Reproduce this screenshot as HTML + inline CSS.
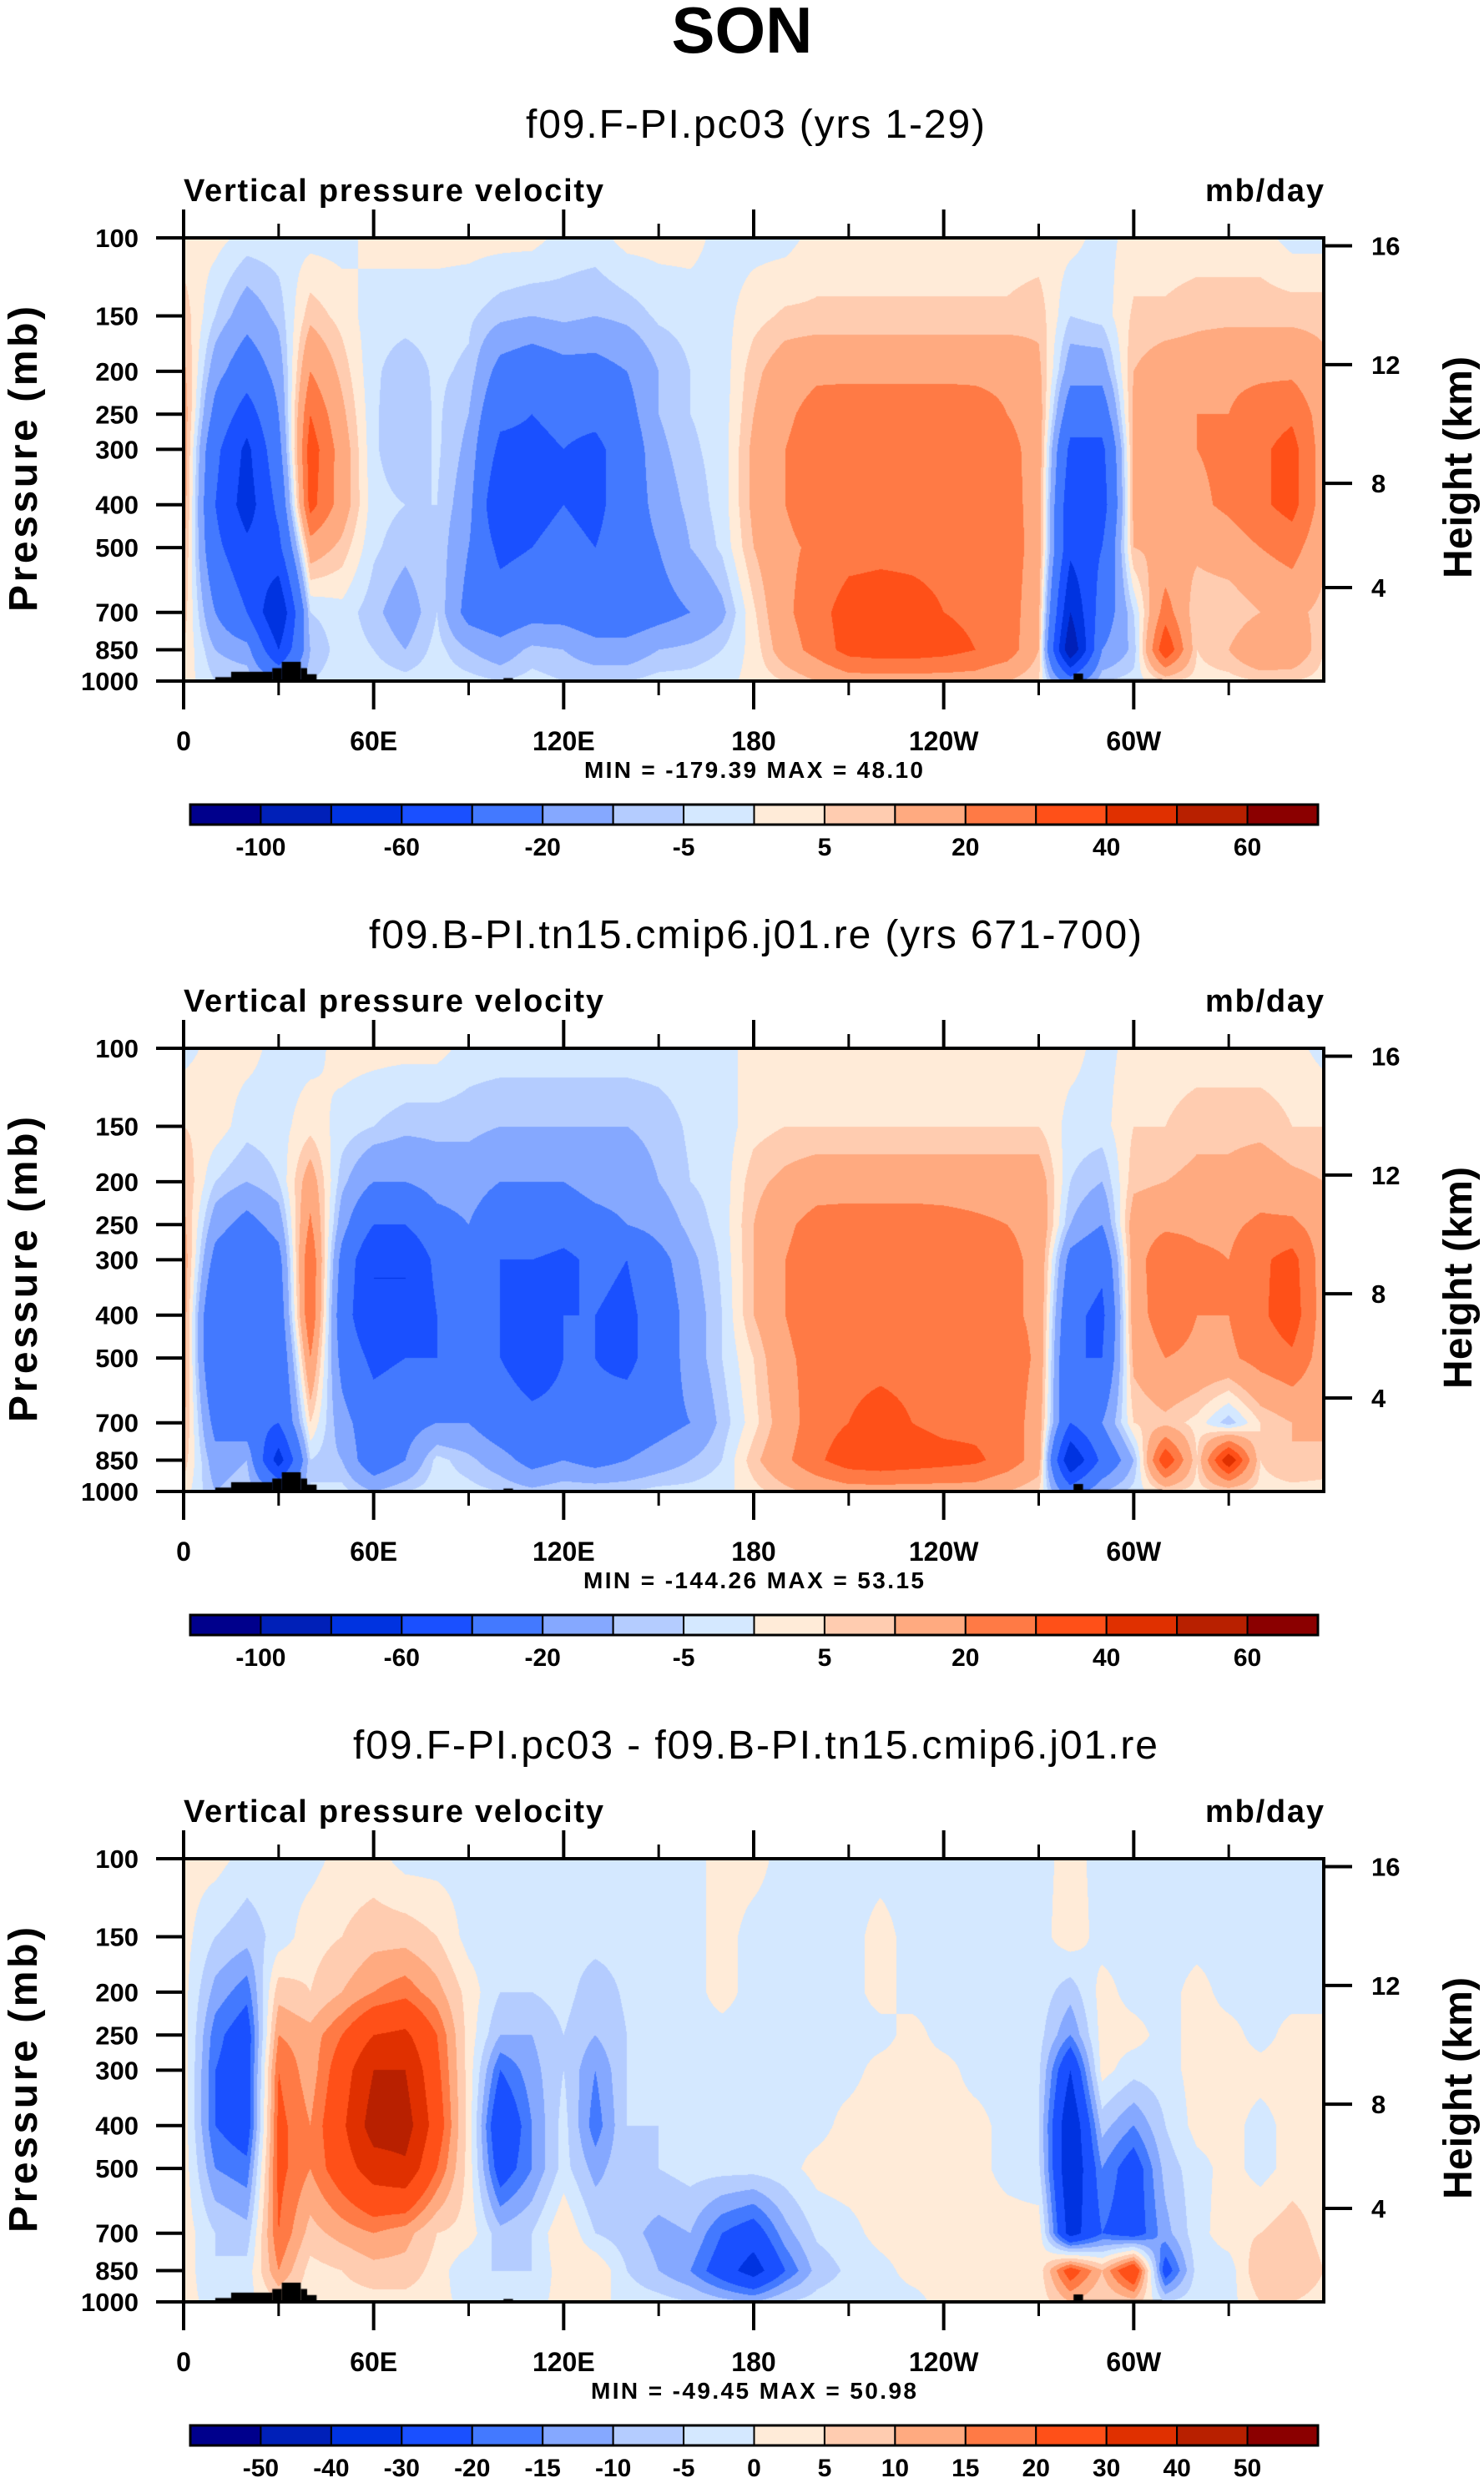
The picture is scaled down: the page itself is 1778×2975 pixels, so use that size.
<!DOCTYPE html>
<html><head><meta charset="utf-8">
<style>
html,body{margin:0;padding:0;background:#fff;}
#wrap{position:relative;width:1778px;height:2975px;overflow:hidden;font-family:"Liberation Sans",sans-serif;}
canvas{position:absolute;left:220px;}
svg{position:absolute;left:0;top:0;}
</style></head>
<body>
<div id="wrap">
<canvas id="c0" width="1366" height="531" style="top:285px"></canvas>
<canvas id="c1" width="1366" height="531" style="top:1256px"></canvas>
<canvas id="c2" width="1366" height="531" style="top:2227px"></canvas>
<svg id="svg" width="1778" height="2975" xmlns="http://www.w3.org/2000/svg">
<text x="889" y="63" text-anchor="middle" font-size="78" font-weight="bold" font-family="Liberation Sans, sans-serif">SON</text>
</svg>
</div>
<script>
const pLevels = [100,150,200,250,300,400,500,700,850,1000];
const lonStep = 10;
const colors = ["#00008c","#0020b8","#0033e0","#1a50ff","#4379ff","#85a8ff","#b4ccff","#d4e8ff","#ffebd8","#ffccb0","#ffaa80","#ff7a45","#ff5018","#e03000","#b82000","#8b0000"];
const levels1 = [-100,-80,-60,-40,-20,-10,-5,0,5,10,20,30,40,50,60];
const levels3 = [-50,-40,-30,-20,-15,-10,-5,0,5,10,15,20,30,40,50];
const labelIdx1 = [0,2,4,6,8,10,12,14];
const labelIdx3 = [0,1,2,3,4,5,6,7,8,9,10,11,12,13,14];
const xTickLons = [0,60,120,180,240,300];
const xTickLabels = ["0","60E","120E","180","120W","60W"];
const xMinorLons = [30,90,150,210,270,330];
const yTickP = [100,150,200,250,300,400,500,700,850,1000];
const heightLabels = ["16","12","8","4"];
const heightFrac = [0.018,0.286,0.554,0.789];
const titles = ["f09.F-PI.pc03 (yrs 1-29)","f09.B-PI.tn15.cmip6.j01.re (yrs 671-700)","f09.F-PI.pc03 - f09.B-PI.tn15.cmip6.j01.re"];
const titleLen = [550,926,964];
const minmax = ["MIN = -179.39  MAX =  48.10","MIN = -144.26  MAX =  53.15","MIN = -49.45  MAX =  50.98"];
const minmaxLen = [406,408,390];
const topoLon0 = [10,15,28,31,37,39,101,281,284];
const topoLon1 = [15,28,31,37,39,42,104,284,309];
const topoPs = [980,953,935,905,935,965,985,962,990];

const field1 = [
[2,2,-2,-2,-2,-2,2,2,2,2,2,2,-2,-2,2,2,2,-2,-2,-2,2,2,2,2,2,2,2,2,2,-2,2,2,2,2,2,-2,-2],
[8,-5,-15,-8,8,3,-3,-3,-3,-4,-8,-10,-8,-10,-8,-4,-3,-2,3,6,6,6,6,6,6,6,6,8,-5,-3,6,6,8,8,8,8,8],
[12,-15,-30,-15,20,8,-4,-8,-4,-6,-25,-30,-25,-25,-20,-10,-5,-3,8,15,18,18,18,18,18,18,18,12,-15,-15,10,15,15,18,18,18,12],
[15,-25,-50,-20,30,12,-4,-10,-4,-10,-35,-40,-35,-35,-25,-10,-5,-3,10,18,24,25,25,25,25,24,20,15,-30,-30,12,18,20,20,25,28,15],
[15,-35,-65,-25,36,15,-4,-10,-4,-12,-45,-45,-40,-45,-30,-12,-6,-3,12,20,26,27,27,27,27,26,24,15,-45,-45,12,18,20,22,28,34,15],
[15,-40,-70,-35,34,15,-3,-5,-5,-15,-60,-45,-40,-45,-30,-15,-8,-3,12,20,26,27,27,27,27,27,25,15,-55,-50,12,15,18,22,28,34,15],
[12,-35,-55,-45,15,8,-4,-8,-5,-20,-45,-40,-35,-40,-30,-20,-10,-4,10,18,22,26,27,27,27,27,26,15,-55,-40,10,12,12,15,20,24,12],
[8,-20,-40,-80,-5,-2,-8,-15,-5,-25,-30,-25,-25,-30,-30,-25,-20,-12,4,18,26,35,36,34,30,28,26,12,-80,-30,-5,25,5,5,10,12,8],
[5,-10,-15,-60,-10,-2,-5,-10,-3,-10,-15,-8,-10,-15,-15,-10,-8,-5,2,15,24,34,36,36,34,30,26,10,-100,-20,-8,40,5,10,20,18,5],
[3,-5,-5,-20,-5,-2,-2,-3,-2,-3,-5,-3,-5,-5,-5,-3,-3,-2,2,5,10,15,15,15,15,15,10,5,-30,-5,-3,5,3,3,5,5,3]
];
const field2 = [
[-2,2,2,-2,-2,2,2,2,2,-2,-2,-2,-2,-2,-2,-2,-2,-2,2,2,2,2,2,2,2,2,2,2,2,-2,2,2,2,2,2,2,-2],
[5,3,-3,-2,3,-2,-5,-8,-8,-8,-10,-10,-10,-10,-10,-8,-4,-3,3,5,5,5,5,5,5,5,5,5,-2,-2,5,5,8,8,8,5,5],
[10,-5,-10,-5,15,-8,-20,-20,-15,-15,-20,-20,-20,-15,-15,-10,-5,-3,8,12,15,15,15,15,15,15,15,15,-5,-10,8,10,12,12,15,12,10],
[12,-15,-25,-15,22,-15,-40,-40,-25,-20,-30,-25,-30,-25,-20,-15,-8,-3,10,18,24,25,25,25,24,22,20,18,-10,-20,15,18,18,18,22,22,15],
[15,-25,-35,-25,30,-25,-60,-60,-35,-30,-40,-40,-45,-35,-40,-25,-12,-4,10,20,26,26,26,26,26,25,22,18,-25,-35,15,28,22,20,28,34,15],
[15,-40,-40,-30,30,-30,-60,-60,-40,-35,-40,-55,-40,-40,-45,-30,-15,-5,10,20,26,27,27,27,27,26,22,18,-35,-45,15,26,20,20,28,36,15],
[15,-40,-40,-35,20,-25,-45,-40,-40,-35,-40,-50,-40,-40,-45,-30,-15,-5,5,18,24,27,27,27,27,27,26,18,-40,-40,12,20,18,18,24,28,15],
[12,-25,-30,-40,5,-15,-30,-25,-20,-20,-30,-35,-35,-35,-30,-25,-20,-8,3,15,26,30,34,30,27,27,26,15,-40,-20,5,8,3,-8,5,10,12],
[8,-15,-10,-70,-5,-10,-30,-20,-3,-8,-15,-25,-20,-25,-20,-15,-10,-5,8,18,28,36,38,36,34,32,26,15,-80,-35,-10,40,5,50,5,10,8],
[3,-10,-5,-20,-5,-3,-10,-5,-2,-3,-5,-8,-5,-5,-5,-3,-3,-2,3,8,12,15,15,15,15,15,10,5,-30,-10,-3,5,3,5,3,3,3]
];
const field3 = [
[2,2,-2,-2,-2,2,2,-2,-2,-2,-2,-2,-2,-2,-2,-2,-2,2,2,-2,-2,-2,-2,-2,-2,-2,-2,-2,2,-2,-2,-2,-2,-2,-2,-2,-2],
[2,-5,-8,-3,3,5,8,8,5,-2,-3,-2,-3,-3,-3,-3,-2,2,-2,-2,-2,-2,2,-2,-2,-2,-2,-2,3,-2,-2,-2,-2,-2,-2,-2,-2],
[2,-12,-18,8,5,10,15,18,12,3,-5,-5,-3,-8,-4,-3,-2,2,-2,-2,-2,-2,2,-2,-2,-2,-2,-2,-8,2,-2,-2,2,-2,-2,-2,-2],
[3,-18,-25,15,12,20,30,32,20,3,-10,-10,-5,-10,-5,-4,-2,-2,-2,-2,-2,-2,-2,2,-2,-2,-2,-3,-15,2,2,-2,2,2,-2,2,2],
[3,-20,-25,20,12,25,40,40,22,3,-20,-12,-5,-15,-5,-4,-2,-2,-2,-2,-2,-2,2,2,2,-2,-2,-4,-30,2,-3,-2,2,2,2,2,2],
[3,-20,-25,22,15,28,45,45,25,3,-30,-15,-3,-18,-5,-5,-3,-2,-2,-2,-2,2,3,3,2,2,-2,-5,-40,-8,-15,-5,2,2,-2,2,2],
[3,-15,-18,22,15,25,35,38,20,3,-25,-15,-3,-12,-6,-5,-3,-3,-3,-2,2,3,3,3,3,2,-2,-4,-40,-15,-25,-8,-2,2,-2,2,2],
[3,-5,-8,20,8,12,15,12,5,3,-8,-5,5,-5,-8,-12,-10,-20,-25,-12,-4,-2,2,3,3,3,3,3,-35,-20,-25,-12,-2,3,5,8,3],
[3,-5,-3,15,3,5,8,8,3,-5,-5,-5,3,5,-5,-10,-15,-25,-35,-20,-8,-4,-2,2,2,2,2,2,25,10,30,-25,-3,-3,10,10,5],
[2,-2,-2,5,2,3,3,3,2,-2,-2,-2,2,2,-2,-3,-5,-8,-10,-5,-3,-2,-2,-2,2,2,2,2,10,5,8,-5,-2,-2,5,5,3]
];
const fields = [field1, field2, field3];
const levelSets = [levels1, levels1, levels3];

const PW = 1366, PH = 531, PL = 220, PT = 285, DY = 971;
function xOf(lon){ return PL + lon/360*PW; }
function yFrac(p){ return Math.log10(p) - 2; }
function hexRgb(h){ return [parseInt(h.substr(1,2),16),parseInt(h.substr(3,2),16),parseInt(h.substr(5,2),16)]; }
const rgb = colors.map(hexRgb);

function classify(v, lev){ let k=0; while(k<lev.length && v>=lev[k]) k++; return k; }

function drawField(k){
  const cv = document.getElementById('c'+k);
  const ctx = cv.getContext('2d');
  const img = ctx.createImageData(PW, PH);
  const f = fields[k], lev = levelSets[k];
  const logs = pLevels.map(p=>Math.log10(p));
  for(let py=0; py<PH; py++){
    const lp = 2 + (py+0.5)/PH;
    let i=0; while(i<logs.length-2 && lp>logs[i+1]) i++;
    let t=(lp-logs[i])/(logs[i+1]-logs[i]); t=Math.max(0,Math.min(1,t));
    const r0=f[i], r1=f[i+1];
    for(let px=0; px<PW; px++){
      const lon=(px+0.5)/PW*360;
      let j=Math.floor(lon/lonStep); if(j>=r0.length-1) j=r0.length-2;
      const s=(lon-j*lonStep)/lonStep;
      const a=r0[j]*(1-s)+r0[j+1]*s, b=r1[j]*(1-s)+r1[j+1]*s;
      const v=a*(1-t)+b*t;
      const c=rgb[classify(v,lev)];
      const o=(py*PW+px)*4;
      img.data[o]=c[0];img.data[o+1]=c[1];img.data[o+2]=c[2];img.data[o+3]=255;
    }
  }
  ctx.putImageData(img,0,0);
  ctx.fillStyle='#000';
  for(let m=0;m<topoPs.length;m++){
    const x0=topoLon0[m]/360*PW, x1=topoLon1[m]/360*PW;
    const y0=(Math.log10(topoPs[m])-2)*PH;
    ctx.fillRect(x0,y0,x1-x0,PH-y0);
  }
}

const NS='http://www.w3.org/2000/svg';
const svg=document.getElementById('svg');
function mk(tag, attrs){ const e=document.createElementNS(NS,tag); for(const a in attrs) e.setAttribute(a,attrs[a]); svg.appendChild(e); return e; }
function txt(x,y,s,size,anchor,weight){ const e=mk('text',{x:x,y:y,'font-size':size,'text-anchor':anchor,'font-weight':weight,'font-family':'Liberation Sans, sans-serif'}); e.textContent=s; return e; }

for(let k=0;k<3;k++){
  drawField(k);
  const oy=k*DY, top=PT+oy, bot=PT+PH+oy;
  let e;
  e=txt(905,165+oy,titles[k],48,'middle','normal');
  e.setAttribute('textLength',titleLen[k]);
  
  
  e=txt(220,241+oy,'Vertical pressure velocity',38,'start','bold');
  e.setAttribute('textLength','503');
  
  
  e=txt(1586,241+oy,'mb/day',38,'end','bold');
  e.setAttribute('textLength','142');
  
  
  e=mk('rect',{x:PL,y:top,width:PW,height:PH,fill:'none',stroke:'#000','stroke-width':4});
  
  
  for(let i=0;i<xTickLons.length;i++){
    const x=xOf(xTickLons[i]);
    e=mk('line',{x1:x,y1:top,x2:x,y2:top-34,stroke:'#000','stroke-width':4});
    
    
    e=mk('line',{x1:x,y1:bot,x2:x,y2:bot+34,stroke:'#000','stroke-width':4});
    
    
    e=txt(x,bot+83,xTickLabels[i],32,'middle','bold');
    
    
  }
  for(let i=0;i<xMinorLons.length;i++){
    const x=xOf(xMinorLons[i]);
    e=mk('line',{x1:x,y1:top,x2:x,y2:top-17,stroke:'#000','stroke-width':3});
    
    
    e=mk('line',{x1:x,y1:bot,x2:x,y2:bot+17,stroke:'#000','stroke-width':3});
    
    
  }
  for(let i=0;i<yTickP.length;i++){
    const y=top+yFrac(yTickP[i])*PH;
    e=mk('line',{x1:PL,y1:y,x2:PL-33,y2:y,stroke:'#000','stroke-width':4});
    
    
    e=txt(166,y+11,String(yTickP[i]),31,'end','bold');
    
    
  }
  for(let i=0;i<heightLabels.length;i++){
    const y=top+heightFrac[i]*PH;
    e=mk('line',{x1:PL+PW,y1:y,x2:PL+PW+34,y2:y,stroke:'#000','stroke-width':4});
    
    
    e=txt(1643,y+11,heightLabels[i],31,'start','bold');
    
    
  }
  e=txt(0,0,'Pressure (mb)',48,'middle','bold');
  e.setAttribute('transform','translate(44,'+(550+oy)+') rotate(-90)');
  e.setAttribute('textLength','366');
  
  
  e=txt(0,0,'Height (km)',48,'middle','bold');
  e.setAttribute('transform','translate(1763,'+(560+oy)+') rotate(-90)');
  e.setAttribute('textLength','266');
  
  
  e=txt(903,932+oy,minmax[k],28,'middle','bold');
  e.setAttribute('textLength',minmaxLen[k]);
  
  
  const cbx=228, cbw=1351, cby=964+oy, cbh=24, bw=cbw/16;
  for(let i=0;i<16;i++){
    e=mk('rect',{x:cbx+i*bw,y:cby,width:bw,height:cbh,fill:colors[i],stroke:'#000','stroke-width':2});
    
    
  }
  e=mk('rect',{x:cbx,y:cby,width:cbw,height:cbh,fill:'none',stroke:'#000','stroke-width':3});
  
  
  const lev=levelSets[k], idx = k<2?labelIdx1:labelIdx3;
  for(let n=0;n<idx.length;n++){
    const x=cbx+(idx[n]+1)*bw;
    e=txt(x,cby+61,String(lev[idx[n]]),30,'middle','bold');
    
    
  }
}
</script>
</body></html>
